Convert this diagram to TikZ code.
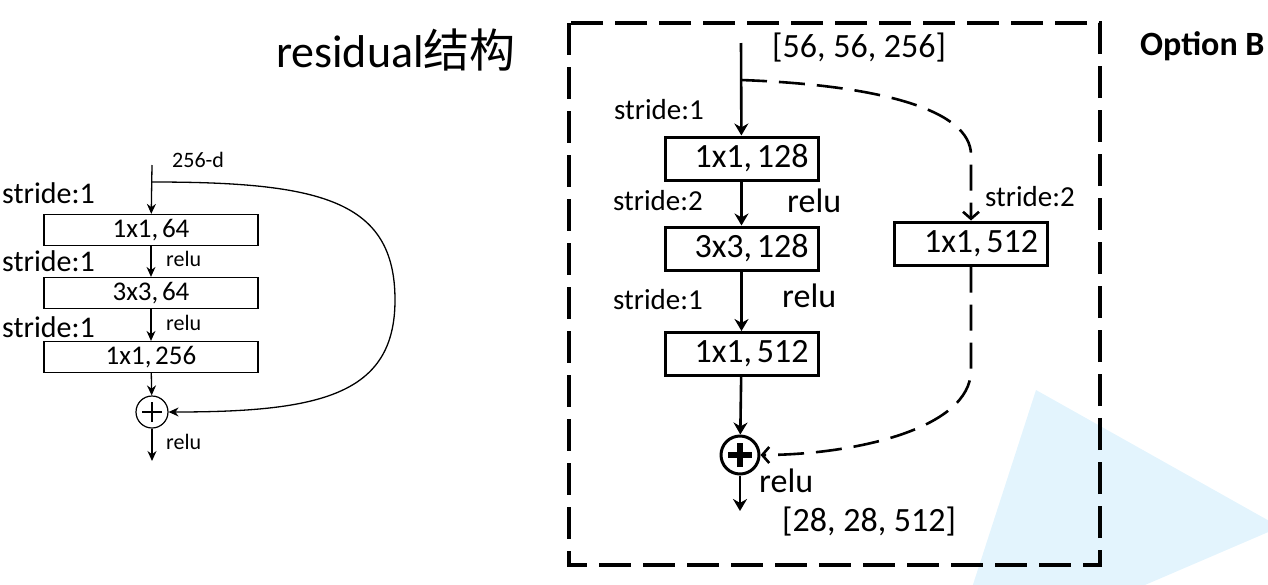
\documentclass[tikz,border=0pt]{standalone}
\usepackage{fontspec}
\setmainfont{Carlito}
\newfontfamily\boxfont{Carlito}[WordSpace=0.6]
\newfontfamily\cjk{Noto Sans CJK SC}
\usetikzlibrary{arrows.meta}
\definecolor{skyblue}{HTML}{E3F4FD}
\newcommand{\fs}[1]{\fontsize{#1}{#1}\selectfont}
\newcommand{\rlab}[1]{\hspace*{20pt}#1}

\begin{document}
\begin{tikzpicture}[
  x=1pt, y=-1pt,
  lbox/.style={draw, line width=1.2pt, minimum width=214pt, minimum height=31pt,
    inner sep=0pt, font=\boxfont\fs{27}},
  rbox/.style={draw, line width=3pt, minimum width=153pt, minimum height=43pt,
    inner sep=0pt, font=\boxfont\fs{34}},
  lsum/.style={circle, draw, line width=1.2pt, minimum size=32pt, inner sep=0pt,
    path picture={\draw[line width=1.2pt]
      ([xshift=-10pt]path picture bounding box.center) -- ([xshift=10pt]path picture bounding box.center)
      ([yshift=-10pt]path picture bounding box.center) -- ([yshift=10pt]path picture bounding box.center);}},
  rsum/.style={circle, draw, line width=3pt, minimum size=38pt, inner sep=0pt,
    path picture={\draw[line width=6pt]
      ([xshift=-12pt]path picture bounding box.center) -- ([xshift=12pt]path picture bounding box.center)
      ([yshift=-12pt]path picture bounding box.center) -- ([yshift=12pt]path picture bounding box.center);}},
  larrow/.style={line width=1.3pt, -{Stealth[length=10pt, width=9pt]}},
  rarrow/.style={line width=2.6pt, -{Stealth[length=12pt, width=14pt]}},
  rdash/.style={line width=2.6pt, dash pattern=on 26pt off 12pt,
    -{Straight Barb[length=7pt, width=16pt, line width=2.6pt]}},
  ltext/.style={font=\fs{30}, inner sep=0pt},
  lsmall/.style={font=\fs{22}, inner sep=0pt},
  rtext/.style={font=\fs{29}, inner sep=0pt},
  rbig/.style={font=\fs{34}, inner sep=0pt}
]

\useasboundingbox (0,0) rectangle (1268,584);

% background triangle
\fill[skyblue] (1036,390) -- (1280,527) -- (1110,600) -- (968,600) -- cycle;

% title
\node[inner sep=0pt, font=\fs{46}] (title) at (396,50) {residual{\cjk 结构}};
\node[inner sep=0pt, font=\bfseries\fs{34}, anchor=west] (optb) at (1140,46) {Option B};

% left: bottleneck block
\coordinate (lin) at (152,165);
\coordinate (lsplit) at (152,182);
\node[lbox] (l1) at (151,230) {1x1, 64};
\node[lbox] (l2) at (151,293) {3x3, 64};
\node[lbox] (l3) at (151,357) {1x1, 256};
\node[lsum] (ls) at (152,412) {};
\coordinate (lout) at (152,461);

\draw[larrow] (lin) -- (l1);
\draw[larrow] (l1) -- (l2);
\draw[larrow] (l2) -- (l3);
\draw[larrow] (l3) -- (ls);
\draw[larrow] (ls) -- (lout);
\draw[larrow] (lsplit) .. controls (320,182) and (395,200) .. (395,300)
  .. controls (395,395) and (320,412) .. (ls.east);

\node[lsmall, anchor=west] (ldim) at (172,160) {256-d};
\node[ltext, anchor=west] (lst1) at (2,193) {stride:1};
\node[ltext, anchor=west] (lst2) at (2,261) {stride:1};
\node[ltext, anchor=west] (lst3) at (2,327) {stride:1};
\node[lsmall, anchor=west] (lre1) at (166,259) {relu};
\node[lsmall, anchor=west] (lre2) at (166,323) {relu};
\node[lsmall, anchor=west] (lre3) at (166,442) {relu};

% right: Option B block
\draw[line width=4pt, dash pattern=on 32pt off 12pt] (569,23) rectangle (1100,565);

\coordinate (rin) at (741,43);
\coordinate (rsplit) at (741,80);
\node[rbox] (r1) at (741.5,158.5) {\rlab{1x1, 128}};
\node[rbox] (r2) at (741.5,248.5) {\rlab{3x3, 128}};
\node[rbox] (r3) at (741.5,354) {\rlab{1x1, 512}};
\node[rbox] (rs) at (971,243.5) {\rlab{1x1, 512}};
\node[rsum] (rsu) at (740,455) {};
\coordinate (rout) at (740,511);

\draw[rarrow] (rin) -- (r1);
\draw[rarrow] (r1) -- (r2);
\draw[rarrow] (r2) -- (r3);
\draw[rarrow] (r3) -- (rsu);
\draw[rarrow] (rsu) -- (rout);
\draw[rdash] (rsplit) .. controls (880,85) and (971,110) .. (971,155) -- (rs.north);
\draw[rdash] (rs.south) -- (971,370) .. controls (971,430) and (850,455) .. (rsu.east);

\node[rbig, anchor=west] (rdin) at (772,48) {[56, 56, 256]};
\node[rbig, anchor=west] (rdout) at (782,522) {[28, 28, 512]};
\node[rtext, anchor=west] (rst1) at (614,110) {stride:1};
\node[rtext, anchor=west] (rst2) at (613,201) {stride:2};
\node[rtext, anchor=west] (rst3) at (613,300) {stride:1};
\node[rtext, anchor=west] (rst4) at (985,197) {stride:2};
\node[rbig, anchor=west] (rre1) at (787,201) {relu};
\node[rbig, anchor=west] (rre2) at (782,296) {relu};
\node[rbig, anchor=west] (rre3) at (759,481) {relu};

\end{tikzpicture}
\end{document}
